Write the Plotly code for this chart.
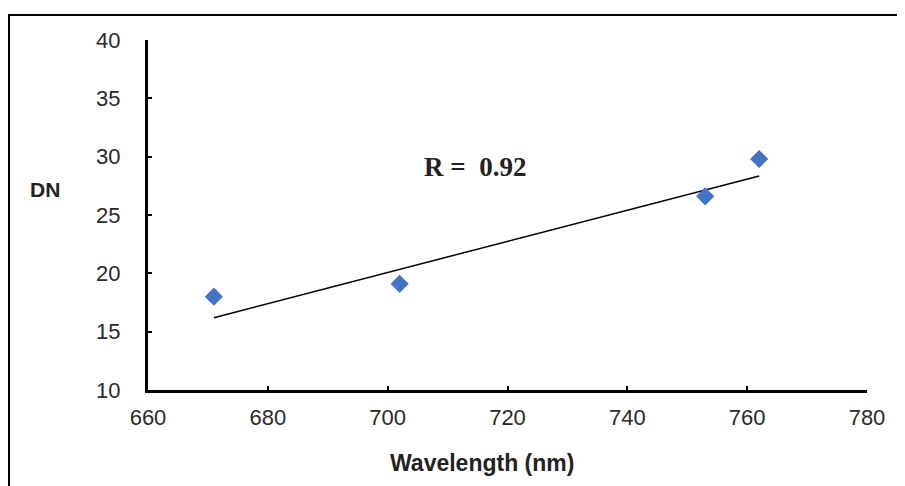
import plotly.graph_objects as go

wavelength = [671, 702, 753, 762]
dn = [18.0, 19.1, 26.6, 29.8]
trend_x = [671, 762]
trend_y = [16.2, 28.35]
x_ticks = [660, 680, 700, 720, 740, 760, 780]
y_ticks = [10, 15, 20, 25, 30, 35, 40]
r_label = "<b>R =\u00a0 0.92</b>"

# page body has an 8px margin; compensate so the plot area sits at 148..867 x 40..390
OFF = 8
PL, PR, PT, PB = 148, 867, 40, 390
W, H = 905, 486

fig = go.Figure()
fig.add_trace(go.Scatter(x=trend_x, y=trend_y, mode="lines",
                         line=dict(color="black", width=1.5), showlegend=False))
fig.add_trace(go.Scatter(x=wavelength, y=dn, mode="markers",
                         marker=dict(symbol="diamond", size=14, color="#4472C4",
                                     line=dict(width=0)), showlegend=False))

axis_common = dict(showgrid=False, zeroline=False, showline=True, linecolor="black",
                   linewidth=3, ticks="inside", ticklen=4, tickwidth=2, tickcolor="black",
                   tickfont=dict(family="Liberation Sans, Arial", size=22, color="#2a2a2a"),
                   automargin=False)
fig.update_xaxes(range=[660, 780], tickvals=x_ticks, ticklabelstandoff=6, **axis_common)
fig.update_yaxes(range=[10, 40], tickvals=y_ticks, ticklabelstandoff=20, **axis_common)


def px(x):
    return (x - PL) / (PR - PL)


def py(y):
    return (PB - y) / (PB - PT)


fig.add_annotation(x=714.5, y=29.1, text=r_label, showarrow=False,
                   xanchor="center", yanchor="middle",
                   font=dict(family="Liberation Serif, Times New Roman", size=27, color="#222"),
                   xref="x", yref="y")
fig.add_annotation(x=px(45), y=py(189), xref="paper", yref="paper",
                   xanchor="center", yanchor="middle",
                   text="<b>DN</b>", showarrow=False,
                   font=dict(family="Liberation Sans, Arial", size=21, color="#222"))
fig.add_annotation(x=px(482), y=py(463), xref="paper", yref="paper",
                   xanchor="center", yanchor="middle",
                   text="<b>Wavelength (nm)</b>", showarrow=False,
                   font=dict(family="Liberation Sans, Arial", size=23, color="#222"))

fig.add_shape(type="rect", xref="paper", yref="paper",
              x0=px(9), x1=1.2, y0=-0.5, y1=py(15),
              line=dict(color="black", width=2), fillcolor="rgba(0,0,0,0)", layer="below")

fig.update_layout(width=W, height=H,
                  margin=dict(l=PL - OFF, r=W - (PR - OFF), t=PT - OFF, b=H - (PB - OFF)),
                  plot_bgcolor="white", paper_bgcolor="white")

fig.write_html("out.html")
